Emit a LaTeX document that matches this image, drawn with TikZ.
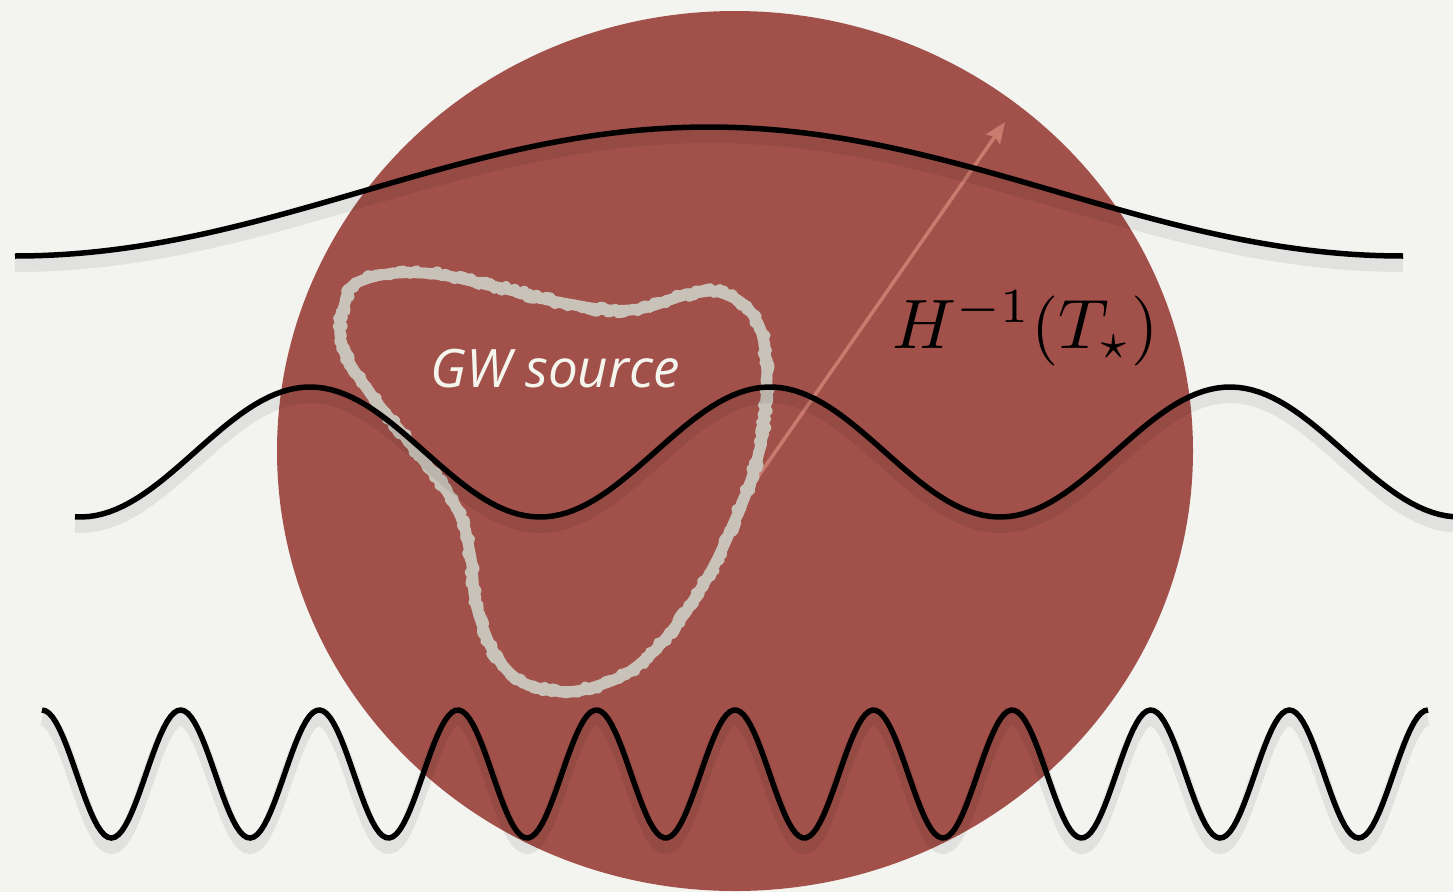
\documentclass[tikz,border=0pt]{standalone}
\usepackage{fontspec}
\newfontfamily\gwfont{Open Sans}
\usetikzlibrary{arrows.meta,decorations.pathmorphing}
\definecolor{paper}{HTML}{F3F3F0}
\definecolor{horizon}{HTML}{A1504A}
\definecolor{chalkgray}{HTML}{C9C2B8}
\definecolor{radiusred}{HTML}{C97B6D}
\definecolor{gwwhite}{HTML}{F4F6EE}
\begin{document}
\begin{tikzpicture}[x=1pt,y=-1pt,
  wave/.style={line width=5.5pt,black},
  waveshadow/.style={line width=14pt,black,opacity=0.07,shift={(0,9)}},
  chalk/.style={draw=chalkgray,line width=11pt,line join=round},
  radius arrow/.style={line width=3.5pt,radiusred,-{Stealth[length=21pt,width=17pt,inset=3pt]}}]
\pgfmathsetseed{7}
\fill[paper] (0,0) rectangle (1453,892);
\useasboundingbox (0,0) rectangle (1453,892);
% Hubble patch
\fill[horizon] (735,451) ellipse [x radius=458pt, y radius=440pt];
% radius arrow
\coordinate (rfrom) at (746,494);
\coordinate (rto) at (1005,122);
\draw[radius arrow] (rfrom) -- (rto);
% source outline
\draw[chalk] plot[smooth cycle,tension=0.7] coordinates {(363,280) (423,273) (497,287) (563,303) (630,310) (690,294) (725,294) (755,318) (766,360) (765,410) (757,460) (735,520) (700,590) (650,655) (600,685) (548,690) (505,668) (478,612) (470,553) (455,505) (413,447) (370,393) (342,345) (345,303)};
\draw[chalk,line width=10pt,decorate,decoration={random steps,segment length=3pt,amplitude=3pt}] plot[smooth cycle,tension=0.7] coordinates {(363,280) (423,273) (497,287) (563,303) (630,310) (690,294) (725,294) (755,318) (766,360) (765,410) (757,460) (735,520) (700,590) (650,655) (600,685) (548,690) (505,668) (478,612) (470,553) (455,505) (413,447) (370,393) (342,345) (345,303)};
\node[anchor=base,text=gwwhite,inner sep=0pt,font=\gwfont\itshape\fontsize{53}{60}\selectfont] (gw) at (555,387) {GW source};
\node[anchor=base west,scale=7,inner sep=0pt] (hinv) at (891,348) {$H^{-1}(T_\star)$};
% waves
\draw[waveshadow] plot[domain=15:1403,samples=150] (\x,{191.5-64.5*cos((\x-709)/1388*360)});
\draw[wave] plot[domain=15:1403,samples=150] (\x,{191.5-64.5*cos((\x-709)/1388*360)});
\draw[waveshadow] plot[domain=75:1453,samples=200] (\x,{452+65*cos((\x-80)/460*360)});
\draw[wave] plot[domain=75:1453,samples=200] (\x,{452+65*cos((\x-80)/460*360)});
\draw[waveshadow] plot[domain=42:1428,samples=400] (\x,{774-64*cos((\x-42)/138.6*360)});
\draw[wave] plot[domain=42:1428,samples=400] (\x,{774-64*cos((\x-42)/138.6*360)});
\end{tikzpicture}
\end{document}
